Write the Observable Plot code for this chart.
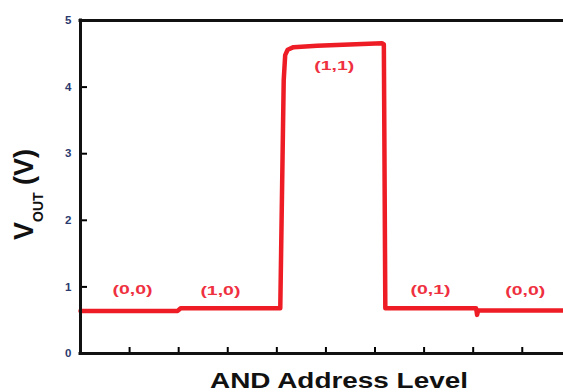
<!DOCTYPE html>
<html><head><meta charset="utf-8">
<script src="https://cdn.jsdelivr.net/npm/d3@7"></script>
<script src="https://cdn.jsdelivr.net/npm/@observablehq/plot@0.6"></script>
<style>body{margin:0;background:#fff} svg{display:block}</style>
</head><body><div id="chart"></div>
<script>
// trace of V_OUT along the address sequence (x in address-level units, V)
const lineX = [0, 1.98, 2.04, 4.07, 4.14, 4.17, 4.22, 4.34, 4.82, 6.14, 6.18, 6.21, 8.06, 8.08, 8.10, 9.84];
const lineV = [0.64, 0.64, 0.68, 0.68, 4.10, 4.48, 4.56, 4.60, 4.62, 4.66, 4.64, 0.68, 0.68, 0.58, 0.645, 0.645];
const stateLabels = ["(0,0)", "(1,0)", "(1,1)", "(0,1)", "(0,0)"];
const stateX = [1.06, 2.85, 5.17, 7.13, 9.06];
const stateV = [0.96, 0.95, 4.32, 0.96, 0.94];
const yTicks = [0, 1, 2, 3, 4, 5];
const xTicks = [1, 2, 3, 4, 5, 6, 7, 8, 9];
const xTitle = "AND Address Level";
const yTitleMain = "V", yTitleSub = "OUT", yTitleUnit = " (V)";

const linePts = lineX.map((x, i) => ({x, v: lineV[i]}));
const labels = stateLabels.map((t, i) => ({t, x: stateX[i], v: stateV[i]}));

const chart = Plot.plot({
  width: 563, height: 392,
  marginLeft: 80, marginRight: 0, marginTop: 20, marginBottom: 39,
  style: {fontFamily: "Liberation Sans, Arial, sans-serif", background: "#fff"},
  x: {domain: [0, 9.84]},
  y: {domain: [0, 5]},
  marks: [
    Plot.axisY(yTicks, {tickSize: 0, tickPadding: 9, tickFormat: d => String(d), fontSize: 11.5, fontWeight: "bold", fill: "#2b3a6e", label: null}),
    Plot.axisY(yTicks.slice(1, 5), {tickSize: -7, strokeWidth: 2, tickFormat: () => "", label: null}),
    Plot.axisX(xTicks, {tickSize: -6, strokeWidth: 2, tickFormat: () => "", label: null}),
    Plot.line(linePts, {x: "x", y: "v", stroke: "#ee1c25", strokeWidth: 4.5, strokeLinejoin: "round"}),
    Plot.text(labels, {x: "x", y: "v", text: "t", fill: "#ef3040", fontSize: 13.5, fontWeight: "bold"}),
    Plot.ruleY([0, 5], {strokeWidth: 3, stroke: "#111", strokeLinecap: "square"}),
    Plot.ruleX([0], {strokeWidth: 3, stroke: "#111", strokeLinecap: "square"})
  ]
});

const svg = d3.select(chart);
svg.selectAll('g[aria-label="text"] text')
  .attr("textLength", 40).attr("lengthAdjust", "spacingAndGlyphs");

svg.append("text")
  .attr("x", 339).attr("y", 388)
  .attr("text-anchor", "middle")
  .attr("font-size", 21.5).attr("font-weight", "bold").attr("fill", "#111")
  .attr("textLength", 258).attr("lengthAdjust", "spacingAndGlyphs")
  .text(xTitle);

const yt = svg.append("text")
  .attr("transform", "translate(33,240) rotate(-90)")
  .attr("text-anchor", "start")
  .attr("font-weight", "bold").attr("fill", "#111");
yt.append("tspan").attr("font-size", 27).text(yTitleMain);
yt.append("tspan").attr("font-size", 14).attr("dy", 10).text(yTitleSub);
yt.append("tspan").attr("font-size", 27).attr("dy", -10).text(yTitleUnit);

document.getElementById("chart").appendChild(chart);
</script>
</body></html>
